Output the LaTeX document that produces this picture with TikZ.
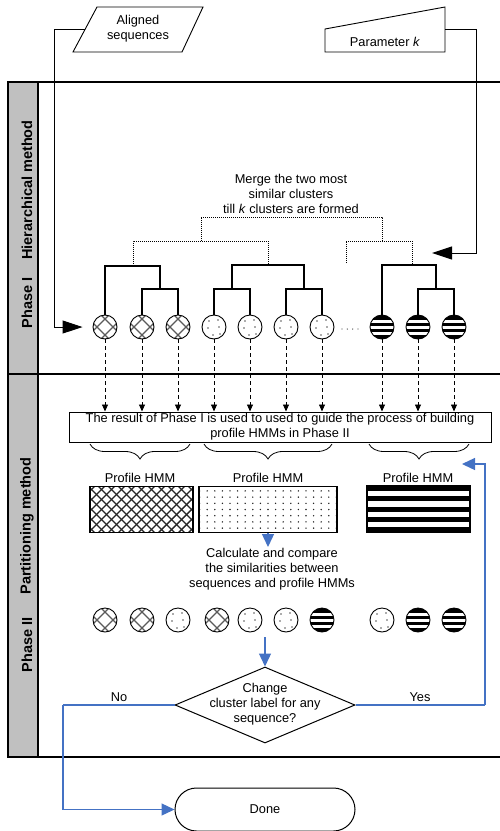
\documentclass[tikz,border=0pt]{standalone}
\usepackage{fontspec}
\setmainfont{Liberation Sans}
\usetikzlibrary{arrows.meta,shapes.geometric,shapes.misc,decorations.pathreplacing,calc}
\definecolor{flowblue}{RGB}{68,114,196}
\definecolor{lanegray}{RGB}{192,192,192}
\definecolor{hatchgray}{RGB}{90,90,90}
\tikzset{
  lane/.style={line width=2},
  shapeline/.style={line width=0.9},
  txt/.style={font=\fontsize{12.8}{15}\selectfont, align=center, inner sep=0},
  lanelabel/.style={font=\fontsize{14.5}{15}\selectfont\bfseries, rotate=90, inner sep=0},
  seq/.style={circle, draw, line width=0.9, minimum size=24, inner sep=0},
  seqx/.style={seq, path picture={
    \foreach \o in {-8,8}{
      \draw[hatchgray, line width=1.3] ([shift={(\o-20,-20)}]path picture bounding box.center) -- ++(40,40);
      \draw[hatchgray, line width=1.3] ([shift={(\o-20,20)}]path picture bounding box.center) -- ++(40,-40);
    }}},
  seqd/.style={seq, path picture={
    \foreach \a/\b in {-5/-6,4/-7,-6/1,5/0,-1/8,6/7}{
      \fill[hatchgray] ([shift={(\a,\b)}]path picture bounding box.center) circle (0.9);
    }}},
  seqs/.style={seq, path picture={
    \foreach \a/\b in {-13/-7.5,-4.5/-1.5,1.5/4.5,7.5/13}{
      \fill[black] ([shift={(-13,\a)}]path picture bounding box.center) rectangle ([shift={(13,\b)}]path picture bounding box.center);
    }}},
  hmm/.style={draw, line width=1.3, minimum height=46, inner sep=0},
  hmmx/.style={hmm, path picture={
    \foreach \o in {-100,-90,...,100}{
      \draw[black!85, line width=1.4] ([shift={(\o-30,-30)}]path picture bounding box.center) -- ++(60,60);
      \draw[black!85, line width=1.4] ([shift={(\o-30,30)}]path picture bounding box.center) -- ++(60,-60);
    }}},
  hmmd/.style={hmm, path picture={
    \foreach \i in {-9,...,9}{
      \foreach \j in {-3,...,3}{
        \fill[black!85] ([shift={(\i*7.6,\j*6.2)}]path picture bounding box.center) circle (0.8);
      }}}},
  hmms/.style={hmm, path picture={
    \foreach \k in {0,10.25,20.5,30.75,41}{
      \fill[black] ([shift={(-2,\k)}]path picture bounding box.north west) rectangle ([shift={(2,\k+5)}]path picture bounding box.north east);
    }}},
  den/.style={line width=1.3},
  dotl/.style={line width=1, densely dotted},
  dasharrow/.style={line width=0.8, dash pattern=on 4 off 3, -{Triangle[length=7,width=6]}},
  bigarrow/.style={line width=1, -{Triangle[length=20,width=13]}},
  bluearrow/.style={flowblue, line width=1.3, -{Triangle[length=13,width=12]}},
  blueline/.style={flowblue, line width=1.3},
  bracestyle/.style={decorate, decoration={brace, mirror, amplitude=15}, line width=0.8}
}
\begin{document}
\begin{tikzpicture}[x=1pt,y=-1pt]
\useasboundingbox (0,0) rectangle (500,831);

% swimlanes
\fill[lanegray] (8,82) rectangle (38,757);
\draw[lane] (520,82) -- (8,82) -- (8,757) -- (520,757);
\draw[lane] (8,374) -- (520,374);
\draw[lane] (38,82) -- (38,757);
\node[lanelabel] (l1) at (27,190) {Hierarchical method};
\node[lanelabel] (l2) at (27,303) {Phase I};
\node[lanelabel] (l3) at (27,526) {Partitioning method};
\node[lanelabel] (l4) at (27,645) {Phase II};

% inputs
\draw[shapeline] (73,52) -- (97,7) -- (203,7) -- (182,52) -- cycle;
\node[txt] (aligned) at (138,29) {Aligned\\sequences};
\coordinate (alignedin) at (85,29.5);
\draw[shapeline] (325,29) -- (445,7) -- (445,52) -- (325,52) -- cycle;
\node[txt] (param) at (385,42) {Parameter \textit{k}};
\coordinate (paramout) at (445,29.5);

% phase I sequences
\node[seqx] (c1) at (105,327) {};
\node[seqx] (c2) at (142,327) {};
\node[seqx] (c3) at (178,327) {};
\node[seqd] (c4) at (214,327) {};
\node[seqd] (c5) at (250,327) {};
\node[seqd] (c6) at (286,327) {};
\node[seqd] (c7) at (322,327) {};
\node[seqs] (c8) at (382,327) {};
\node[seqs] (c9) at (418,327) {};
\node[seqs] (c10) at (454,327) {};
\foreach \xx in {342,347.3,352.7,358} \fill[black!70] (\xx,329) circle (0.7);

% input connectors
\coordinate (inA) at (54,327);
\draw[bigarrow, shorten >=10] (alignedin) -| (inA) -- (c1.west);
\coordinate (inK) at (432,253);
\draw[bigarrow] (paramout) -- (476,29.5) |- (inK);

% dendrogram
\draw[den] (c2.north) |- (c3.north |- 0,289) -- (c3.north);
\draw[den] (c1.north) |- (160,266) -- (160,289);
\draw[den] (c4.north) |- (c5.north |- 0,289) -- (c5.north);
\draw[den] (c6.north) |- (c7.north |- 0,289) -- (c7.north);
\draw[den] (232,289) |- (304,265) -- (304,289);
\draw[den] (c9.north) |- (c10.north |- 0,289) -- (c10.north);
\draw[den] (c8.north) |- (436,265) -- (436,289);
\draw[dotl] (133,266) |- (268,241) -- (268,265);
\draw[dotl] (201,241) |- (382,217) -- (382,241);
\draw[dotl] (346,263) |- (412,241) -- (412,265);
\node[txt] (merge) at (291,194) {Merge the two most\\similar clusters\\till \textit{k} clusters are formed};

% result box
\node[draw, line width=1, minimum width=422, minimum height=30, txt] (res) at (280,427) {The result of Phase I is used to used to guide the process of building\\profile HMMs in Phase II};
\foreach \n in {1,...,10} \draw[dasharrow] (c\n.south) -- (c\n.south |- res.north);

% braces
\draw[bracestyle] (90,444) -- (190,444);
\draw[bracestyle] (204,444) -- (332,444);
\draw[bracestyle] (369,444) -- (469,444);

% profile HMMs
\node[txt] (p1) at (140,478) {Profile HMM};
\node[txt] (p2) at (268,478) {Profile HMM};
\node[txt] (p3) at (418,478) {Profile HMM};
\node[hmmx, minimum width=103] (h1) at (141.5,509.5) {};
\node[hmmd, minimum width=138] (h2) at (268,509.5) {};
\node[hmms, minimum width=103] (h3) at (418.5,509) {};

\coordinate (calcin) at (268,547);
\draw[bluearrow] (h2.south) -- (calcin);
\node[txt] (calc) at (272,569) {Calculate and compare\\the similarities between\\sequences and profile HMMs};

% phase II sequences
\node[seqx] (d1) at (105,620) {};
\node[seqx] (d2) at (142,620) {};
\node[seqd] (d3) at (178,620) {};
\node[seqx] (d4) at (217,620) {};
\node[seqd] (d5) at (250,620) {};
\node[seqd] (d6) at (286,620) {};
\node[seqs] (d7) at (322,620) {};
\node[seqd] (d8) at (382,620) {};
\node[seqs] (d9) at (418,620) {};
\node[seqs] (d10) at (454,620) {};

% decision
\node[diamond, draw, line width=1, minimum width=180, minimum height=76, inner sep=0] (dec) at (265,705) {};
\node[txt] (dectext) at (265,704) {Change\\cluster label for any\\sequence?};
\coordinate (decin) at (265,637);
\draw[bluearrow] (decin) -- (dec.north);

\node[rounded rectangle, draw, line width=1, minimum width=180, minimum height=43, txt] (done) at (265,809.5) {Done};

\draw[blueline] (dec.west) -- (63,705);
\draw[bluearrow] (63,705) |- (done.west);
\node[txt] (no) at (119,697) {No};

\coordinate (yesend) at (462,464);
\draw[blueline] (dec.east) -- (485,705);
\draw[bluearrow] (485,705) |- (yesend);
\node[txt] (yes) at (420,697) {Yes};
\end{tikzpicture}
\end{document}
